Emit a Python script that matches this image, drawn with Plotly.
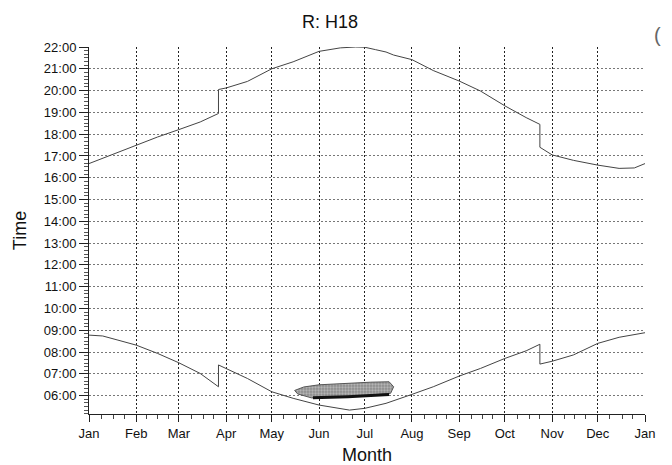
import plotly.graph_objects as go
import pandas as pd

# ---- data ----
sunset_dates = ["2001-01-01", "2001-01-15", "2001-02-01", "2001-02-15", "2001-03-01",
                "2001-03-15", "2001-03-27", "2001-03-27", "2001-04-01", "2001-04-15",
                "2001-05-01", "2001-05-15", "2001-06-01", "2001-06-15", "2001-06-25",
                "2001-07-01", "2001-07-08", "2001-07-15", "2001-07-20", "2001-08-01",
                "2001-08-15", "2001-09-01", "2001-09-15", "2001-10-01", "2001-10-15",
                "2001-10-24", "2001-10-24", "2001-11-01", "2001-11-15", "2001-12-01",
                "2001-12-15", "2001-12-25", "2002-01-01"]
sunset_hours = [16.65, 17.03, 17.49, 17.87, 18.21,
                18.56, 18.95, 20.05, 20.12, 20.42,
                21.00, 21.32, 21.80, 21.96, 22.00,
                21.99, 21.88, 21.77, 21.63, 21.42,
                20.92, 20.44, 19.98, 19.30, 18.76,
                18.45, 17.40, 17.05, 16.80, 16.58,
                16.43, 16.45, 16.65]

sunrise_dates = ["2001-01-01", "2001-01-10", "2001-01-20", "2001-02-01", "2001-02-15",
                 "2001-03-01", "2001-03-15", "2001-03-27", "2001-03-27", "2001-04-01",
                 "2001-04-15", "2001-05-01", "2001-05-15", "2001-06-01", "2001-06-15",
                 "2001-06-21", "2001-07-01", "2001-07-15", "2001-08-01", "2001-08-15",
                 "2001-09-01", "2001-09-15", "2001-10-01", "2001-10-15", "2001-10-24",
                 "2001-10-24", "2001-11-01", "2001-11-15", "2001-12-01", "2001-12-15",
                 "2002-01-01"]
sunrise_hours = [8.78, 8.74, 8.55, 8.32, 7.94,
                 7.51, 7.02, 6.41, 7.41, 7.25,
                 6.79, 6.18, 5.88, 5.57, 5.39,
                 5.34, 5.42, 5.65, 6.06, 6.41,
                 6.90, 7.25, 7.71, 8.06, 8.36,
                 7.45, 7.58, 7.87, 8.40, 8.68,
                 8.89]

# shaded blob (outline) near 06:00 in June/July
blob_dates = ["2001-05-16", "2001-05-22", "2001-06-01", "2001-06-15", "2001-07-05",
              "2001-07-17", "2001-07-20", "2001-07-18", "2001-07-01", "2001-06-10",
              "2001-05-27", "2001-05-18", "2001-05-16"]
blob_hours = [6.24, 6.40, 6.50, 6.56, 6.62,
              6.64, 6.41, 6.11, 6.00, 5.93,
              5.90, 6.08, 6.24]
bar_dates = ["2001-05-28", "2001-06-20", "2001-07-17"]
bar_hours = [5.90, 5.95, 6.05]

hour_ticks = list(range(6, 23))
hour_labels = [f"{h:02d}:00" for h in hour_ticks]
month_ticks = pd.date_range("2001-01-01", "2002-01-01", freq="MS")
month_labels = [d.strftime("%b") for d in month_ticks]

# quarter-month minor ticks
minor_x = []
for a, b in zip(month_ticks[:-1], month_ticks[1:]):
    span = (b - a).days
    for k in range(1, 4):
        minor_x.append(a + pd.Timedelta(days=round(k * span / 4)))

FONT = "Liberation Sans, Arial, sans-serif"

fig = go.Figure()
fig.add_trace(go.Scatter(x=blob_dates, y=blob_hours, mode="lines", fill="toself",
                         line=dict(color="#555", width=1),
                         fillcolor="#999999",
                         fillpattern=dict(shape=".", fgcolor="#dcdcdc", bgcolor="#8c8c8c",
                                          size=3, solidity=0.45),
                         hoverinfo="skip", showlegend=False))
fig.add_trace(go.Scatter(x=bar_dates, y=bar_hours, mode="lines",
                         line=dict(color="#111", width=3), showlegend=False))
fig.add_trace(go.Scatter(x=sunset_dates, y=sunset_hours, mode="lines",
                         line=dict(color="#444", width=1), showlegend=False))
fig.add_trace(go.Scatter(x=sunrise_dates, y=sunrise_hours, mode="lines",
                         line=dict(color="#444", width=1), showlegend=False))

fig.update_layout(
    width=672, height=465,
    margin=dict(l=89, r=27, t=47, b=51, autoexpand=False),
    paper_bgcolor="white", plot_bgcolor="white",
    font=dict(family=FONT, color="#111", size=13),
    title=dict(text="R: H18", x=0.491, xref="container", xanchor="center",
               y=0.953, yanchor="middle", font=dict(size=18, color="#111")),
)
fig.update_xaxes(
    type="date", range=["2001-01-01", "2002-01-01"], automargin=False,
    tickvals=month_ticks, ticktext=month_labels,
    ticks="outside", ticklen=7, tickcolor="#222",
    showline=True, linecolor="#222", linewidth=1,
    showgrid=True, gridcolor="#222", griddash="2px,2px", gridwidth=1,
    zeroline=False,
    minor=dict(tickvals=minor_x, ticks="outside", ticklen=4, tickcolor="#444", showgrid=False),
    title=dict(text="Month", font=dict(size=18), standoff=8),
)
fig.update_yaxes(
    range=[5.16, 22], automargin=False,
    tickvals=hour_ticks, ticktext=hour_labels,
    ticks="outside", ticklen=9, tickcolor="#222",
    showline=True, linecolor="#222", linewidth=1,
    showgrid=True, gridcolor="#777", griddash="2px,2px", gridwidth=1,
    zeroline=False,
    minor=dict(dtick=1/6, ticks="outside", ticklen=4, tickcolor="#555", showgrid=False),
    title=dict(text="Time", font=dict(size=18), standoff=12),
)
fig.add_annotation(text="(", x=1.0 + (663 - 645) / 556, y=1 + (46.7 - 22) / 367.3,
                   xref="paper", yref="paper", showarrow=False,
                   font=dict(size=20, color="#666"))

fig.write_html("out.html", config={"displayModeBar": False},
               post_script="document.body.style.margin='0';")
